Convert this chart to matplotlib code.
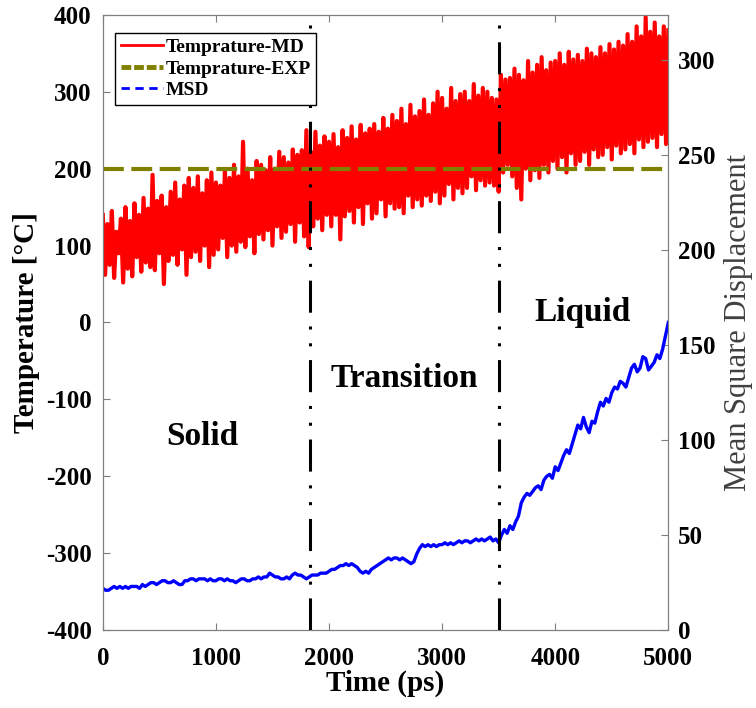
import numpy as np
import matplotlib.pyplot as plt
from matplotlib.lines import Line2D

plt.rcParams['font.family'] = 'Liberation Serif'
plt.rcParams['axes.unicode_minus'] = False

# temperature from MD, one sample every 20 ps
temp_md = [
    140, 62, 128, 75, 145, 58, 118, 90, 135, 52,
    150, 70, 132, 60, 155, 85, 140, 66, 162, 78,
    148, 72, 192, 68, 158, 90, 165, 50, 150, 80,
    170, 88, 182, 75, 160, 95, 178, 62, 188, 85,
    175, 92, 190, 80, 168, 100, 185, 72, 195, 88,
    182, 95, 178, 110, 198, 85, 188, 100, 205, 92,
    190, 105, 235, 98, 200, 112, 185, 90, 210, 115,
    205, 108, 198, 120, 215, 100, 200, 125, 222, 110,
    215, 118, 208, 128, 225, 105, 218, 130, 224, 112,
    250, 98, 222, 125, 248, 135, 230, 120, 242, 140,
    235, 125, 245, 140, 228, 108, 250, 138, 240, 145,
    255, 130, 238, 150, 257, 128, 246, 155, 252, 135,
    258, 142, 248, 160, 266, 138, 252, 155, 270, 148,
    262, 150, 278, 142, 258, 165, 283, 150, 268, 160,
    275, 152, 290, 165, 270, 158, 285, 170, 300, 155,
    292, 165, 278, 180, 305, 160, 288, 175, 297, 168,
    300, 175, 288, 190, 310, 172, 295, 185, 305, 178,
    300, 182, 292, 178, 290, 170, 322, 195, 316, 205,
    318, 190, 330, 175, 322, 160, 315, 200, 340, 185,
    325, 198, 335, 188, 345, 205, 328, 195, 338, 210,
    340, 200, 350, 215, 335, 195, 352, 220, 342, 205,
    348, 210, 340, 222, 356, 205, 350, 225, 345, 215,
    358, 218, 350, 228, 362, 212, 355, 230, 365, 220,
    360, 225, 375, 232, 365, 220, 385, 238, 372, 228,
    397, 235, 378, 240, 390, 228, 372, 245, 385, 232,
    380,
]
time_md = np.arange(len(temp_md)) * 20

# mean square displacement, one sample every 25 ps
msd = [
    22, 21, 21, 22, 23, 22, 23, 22, 23, 22,
    23, 23, 23, 22, 24, 23, 24, 25, 25, 24,
    25, 26, 26, 25, 25, 26, 25, 24, 24, 26,
    26, 27, 27, 26, 27, 27, 27, 26, 27, 26,
    26, 27, 27, 26, 27, 26, 26, 25, 26, 27,
    27, 26, 26, 27, 27, 28, 27, 28, 28, 30,
    29, 28, 28, 27, 27, 28, 27, 29, 30, 29,
    29, 28, 27, 28, 29, 29, 29, 30, 30, 30,
    31, 32, 32, 33, 34, 34, 35, 34, 35, 34,
    33, 31, 30, 31, 30, 32, 33, 34, 35, 36,
    37, 38, 37, 38, 38, 37, 38, 37, 36, 35,
    36, 40, 43, 45, 44, 45, 44, 45, 44, 45,
    45, 46, 45, 46, 45, 46, 47, 46, 47, 47,
    46, 47, 48, 47, 48, 47, 48, 49, 47, 48,
    46, 50, 53, 51, 55, 53, 57, 60, 67, 70,
    72, 71, 73, 75, 76, 74, 79, 81, 82, 80,
    86, 84, 88, 92, 95, 93, 98, 103, 108, 106,
    112, 107, 104, 110, 109, 115, 120, 118, 122, 120,
    125, 128, 127, 131, 130, 128, 133, 138, 140, 136,
    138, 144, 143, 137, 139, 141, 145, 143, 148, 155,
    162,
]
time_msd = np.arange(len(msd)) * 25

temp_exp = 200
phase_bounds = [1830, 3500]
phases = ['Solid', 'Transition', 'Liquid']
phase_pos = [(876, -159), (2668, -84), (4240, 2)]

fig = plt.figure(figsize=(7.56, 7.08), dpi=100)
ax = fig.add_axes([0.136, 0.110, 0.748, 0.869])
ax2 = ax.twinx()

ax.plot(time_md, temp_md, color='red', lw=3)
ax.axhline(temp_exp, color='#808000', lw=3, dashes=(5, 1.8))
ax.set_xlim(0, 5000)
ax.set_ylim(-400, 400)
ax.set_xticks(range(0, 5001, 1000))
ax.set_yticks(range(-400, 401, 100))
ax.set_xlabel('Time (ps)', fontsize=21, fontweight='bold', labelpad=0)
ax.set_ylabel('Temperature [°C]', fontsize=21, fontweight='bold', labelpad=4)

ax2.plot(time_msd, msd, color='blue', lw=2.4)
ax2.set_ylim(0, 324)
ax2.set_yticks(range(0, 301, 50))
ax2.set_ylabel('Mean Square Displacement', fontsize=22, color='#404040', labelpad=6)

for b in phase_bounds:
    ax2.axvline(b, color='black', lw=2.2, dashes=(10.5, 4.5, 1, 4.5, 1, 4.5), zorder=5)

for name, (px, py) in zip(phases, phase_pos):
    ax.text(px, py, name, fontsize=24, fontweight='bold', ha='center', va='baseline')

for a in (ax, ax2):
    for s in a.spines.values():
        s.set_color('#7f7f7f')
    a.tick_params(direction='in', colors='#7f7f7f', labelcolor='black', labelsize=18, length=5)
    for lab in a.get_xticklabels() + a.get_yticklabels():
        lab.set_fontweight('bold')
ax.tick_params(top=True)
ax.tick_params(axis='x', pad=12)
ax.tick_params(axis='y', pad=8)
ax2.tick_params(axis='y', pad=7)

handles = [
    Line2D([], [], color='red', lw=2),
    Line2D([], [], color='#808000', lw=3.5, dashes=(2, 0.6)),
    Line2D([], [], color='blue', lw=2, dashes=(3, 2)),
]
leg = ax2.legend(handles, ['Temprature-MD', 'Temprature-EXP', 'MSD'], loc='upper left',
                 bbox_to_anchor=(0.021, 0.971), prop={'weight': 'bold', 'size': 14},
                 handlelength=2.2, handletextpad=0.1, labelspacing=0.2, borderpad=0.3,
                 borderaxespad=0, fancybox=False, framealpha=1)
leg.get_frame().set_edgecolor('black')
leg.get_frame().set_linewidth(1)
leg.set_zorder(10)

plt.savefig('out.png', dpi=100)
